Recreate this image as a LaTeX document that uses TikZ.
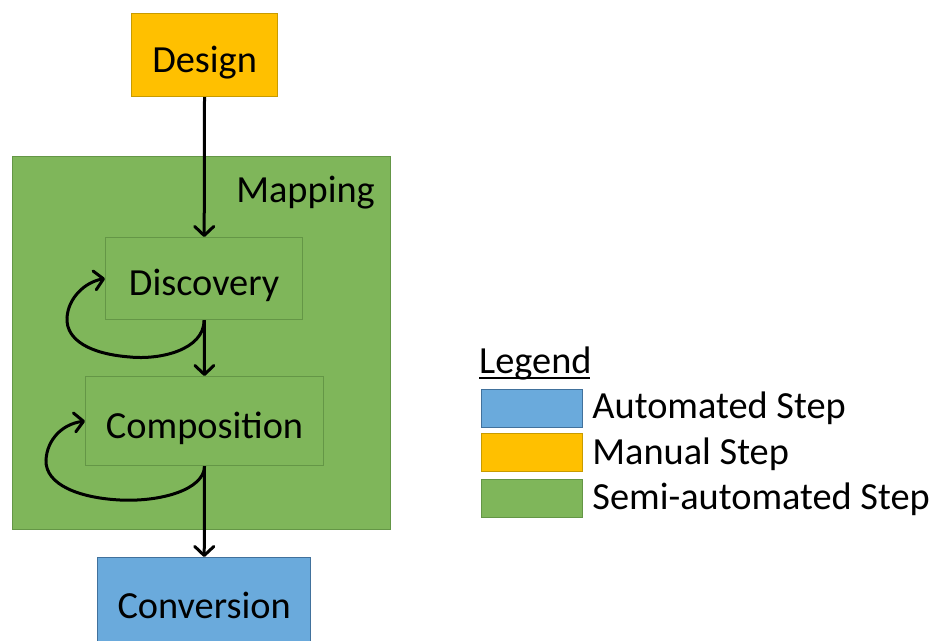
\documentclass[tikz,border=0pt]{standalone}
\usepackage{fontspec}
\setmainfont{Carlito}
\usetikzlibrary{arrows.meta}
\definecolor{manualfill}{RGB}{255,192,0}
\definecolor{manualline}{RGB}{200,155,0}
\definecolor{semifill}{RGB}{127,182,90}
\definecolor{semiline}{RGB}{100,150,70}
\definecolor{autofill}{RGB}{106,170,220}
\definecolor{autoline}{RGB}{65,113,156}
\begin{document}
\begin{tikzpicture}[x=1bp,y=-1bp,
    >={Straight Barb[length=9bp,width=19bp,line join=round,line cap=round]},
    txt/.style={font=\fontsize{38.5}{46}\selectfont},
    stepbox/.style={draw,line width=1.2bp,inner sep=0,anchor=north west,
      txt,text height=34bp,text depth=0bp},
    manual/.style={stepbox,fill=manualfill,draw=manualline},
    semi/.style={stepbox,fill=semifill,draw=semiline},
    auto/.style={stepbox,fill=autofill,draw=autoline},
    flow/.style={->,line width=3bp}]
    \useasboundingbox (0,0) rectangle (933,641);
    \path (131,13) node [manual,minimum width=146bp,minimum height=83bp](design){Design};
    \path (12,156) node [semi,minimum width=378bp,minimum height=373bp](mapping){};
    \path (375,203) node [txt,anchor=base east,inner sep=0](maplabel){Mapping};
    \path (105,237) node [semi,minimum width=197bp,minimum height=82bp](disc){Discovery};
    \path (85,376) node [semi,minimum width=238bp,minimum height=89bp](comp){Composition};
    \path (97,557) node [auto,minimum width=213bp,minimum height=88bp](conv){Conversion};
    \draw[flow] (design) -- (disc);
    \draw[flow] (disc) -- (comp);
    \draw[flow] (comp) -- (conv);
    \draw[flow] (disc.south) .. controls (204,350) and (160,360) .. (130,357)
      .. controls (90,354) and (66,340) .. (67,318)
      .. controls (68,298) and (85,282) .. (disc.west);
    \draw[flow] (comp.south) .. controls (204,490) and (160,502) .. (120,500)
      .. controls (80,498) and (45,485) .. (46,460)
      .. controls (47,440) and (62,424) .. (comp.west);
    % legend
    \path (479,373) node [txt,anchor=base west,inner sep=0](legend){Legend};
    \draw[line width=2bp] (legend.base west) ++(0,5) -- ++(111,0);
    \path (481,389) node [auto,minimum width=101bp,minimum height=38bp](keyauto){};
    \path (481,433) node [manual,minimum width=101bp,minimum height=38bp](keyman){};
    \path (481,479) node [semi,minimum width=101bp,minimum height=38bp](keysemi){};
    \path (keyauto.east) ++(9,10) node [txt,anchor=base west,inner sep=0](txtauto){Automated Step};
    \path (keyman.east) ++(9,12) node [txt,anchor=base west,inner sep=0](txtman){Manual Step};
    \path (keysemi.east) ++(9,11) node [txt,anchor=base west,inner sep=0](txtsemi){Semi-automated Step};
  \end{tikzpicture}
\end{document}
